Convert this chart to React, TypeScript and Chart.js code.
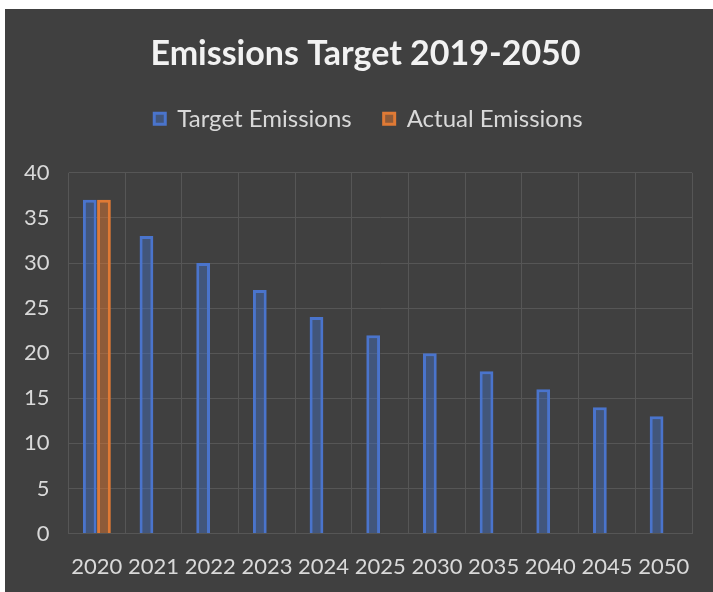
import React, { useEffect, useRef } from "react";
import { Chart, registerables } from "chart.js";

Chart.register(...registerables);

const categories = ["2020", "2021", "2022", "2023", "2024", "2025", "2030", "2035", "2040", "2045", "2050"];
const targetEmissions = [37, 33, 30, 27, 24, 22, 20, 18, 16, 14, 13];
const actualEmissions: (number | null)[] = [37, null, null, null, null, null, null, null, null, null, null];
const yTicks = [0, 5, 10, 15, 20, 25, 30, 35, 40];

const headerTweaks = {
  id: "headerTweaks",
  beforeInit(chart: any) {
    const legend = chart.legend;
    const origFit = legend.fit;
    legend.fit = function () {
      origFit.apply(legend);
      this.height += 32;
    };
    const shift = (box: any, dx: number) => {
      if (!box) return;
      const d = box.draw;
      box.draw = function (...args: any[]) {
        const ctx = chart.ctx;
        ctx.save();
        ctx.translate(dx, 0);
        d.apply(box, args);
        ctx.restore();
      };
    };
    shift(chart.titleBlock, 17);
    shift(legend, 20);
  },
};

export default function App() {
  const ref = useRef<HTMLCanvasElement | null>(null);
  useEffect(() => {
    if (!ref.current) return;
    const chart = new Chart(ref.current, {
      type: "bar",
      data: {
        labels: categories,
        datasets: [
          {
            label: "Target Emissions",
            data: targetEmissions,
            backgroundColor: "rgba(68,114,196,0.45)",
            borderColor: "#4a74cc",
            borderWidth: 3,
            categoryPercentage: 0.5,
            barPercentage: 0.97,
          },
          {
            label: "Actual Emissions",
            data: actualEmissions,
            backgroundColor: "rgba(237,125,49,0.45)",
            borderColor: "#e07a35",
            borderWidth: 3,
            categoryPercentage: 0.5,
            barPercentage: 0.97,
          },
        ],
      },
      plugins: [headerTweaks],
      options: {
        animation: false,
        responsive: true,
        maintainAspectRatio: false,
        layout: { padding: { top: 17, left: 0, right: 21, bottom: -8 } },
        plugins: {
          title: {
            display: true,
            text: "Emissions Target 2019-2050",
            color: "#f2f2f2",
            font: { family: "Lato", size: 34, weight: "bold" },
            padding: { top: 8, bottom: 0 },
          },
          legend: {
            display: true,
            labels: {
              color: "#d9d9d9",
              font: { family: "Lato", size: 24 },
              boxWidth: 11,
              boxHeight: 11,
              padding: 32,
            },
          },
          tooltip: { enabled: false },
        },
        scales: {
          x: {
            grid: { color: "#565656", lineWidth: 1, drawTicks: false },
            border: { display: false },
            ticks: { color: "#d9d9d9", font: { family: "Lato", size: 22 }, padding: 20, maxRotation: 0, autoSkip: false },
          },
          y: {
            min: 0,
            max: 40,
            afterBuildTicks: (axis: any) => {
              axis.ticks = yTicks.map((v) => ({ value: v }));
            },
            grid: { color: "#565656", lineWidth: 1, drawTicks: false },
            border: { display: false },
            ticks: { color: "#d9d9d9", font: { family: "Lato", size: 22 }, padding: 19 },
          },
        },
      },
    });
    return () => chart.destroy();
  }, []);
  return (
    <div
      style={{
        position: "fixed",
        left: 5,
        top: 9,
        width: 708,
        height: 583,
        background: "#404040",
      }}
    >
      <div style={{ position: "relative", width: 708, height: 583 }}>
        <canvas ref={ref} style={{ display: "block" }} />
      </div>
    </div>
  );
}
